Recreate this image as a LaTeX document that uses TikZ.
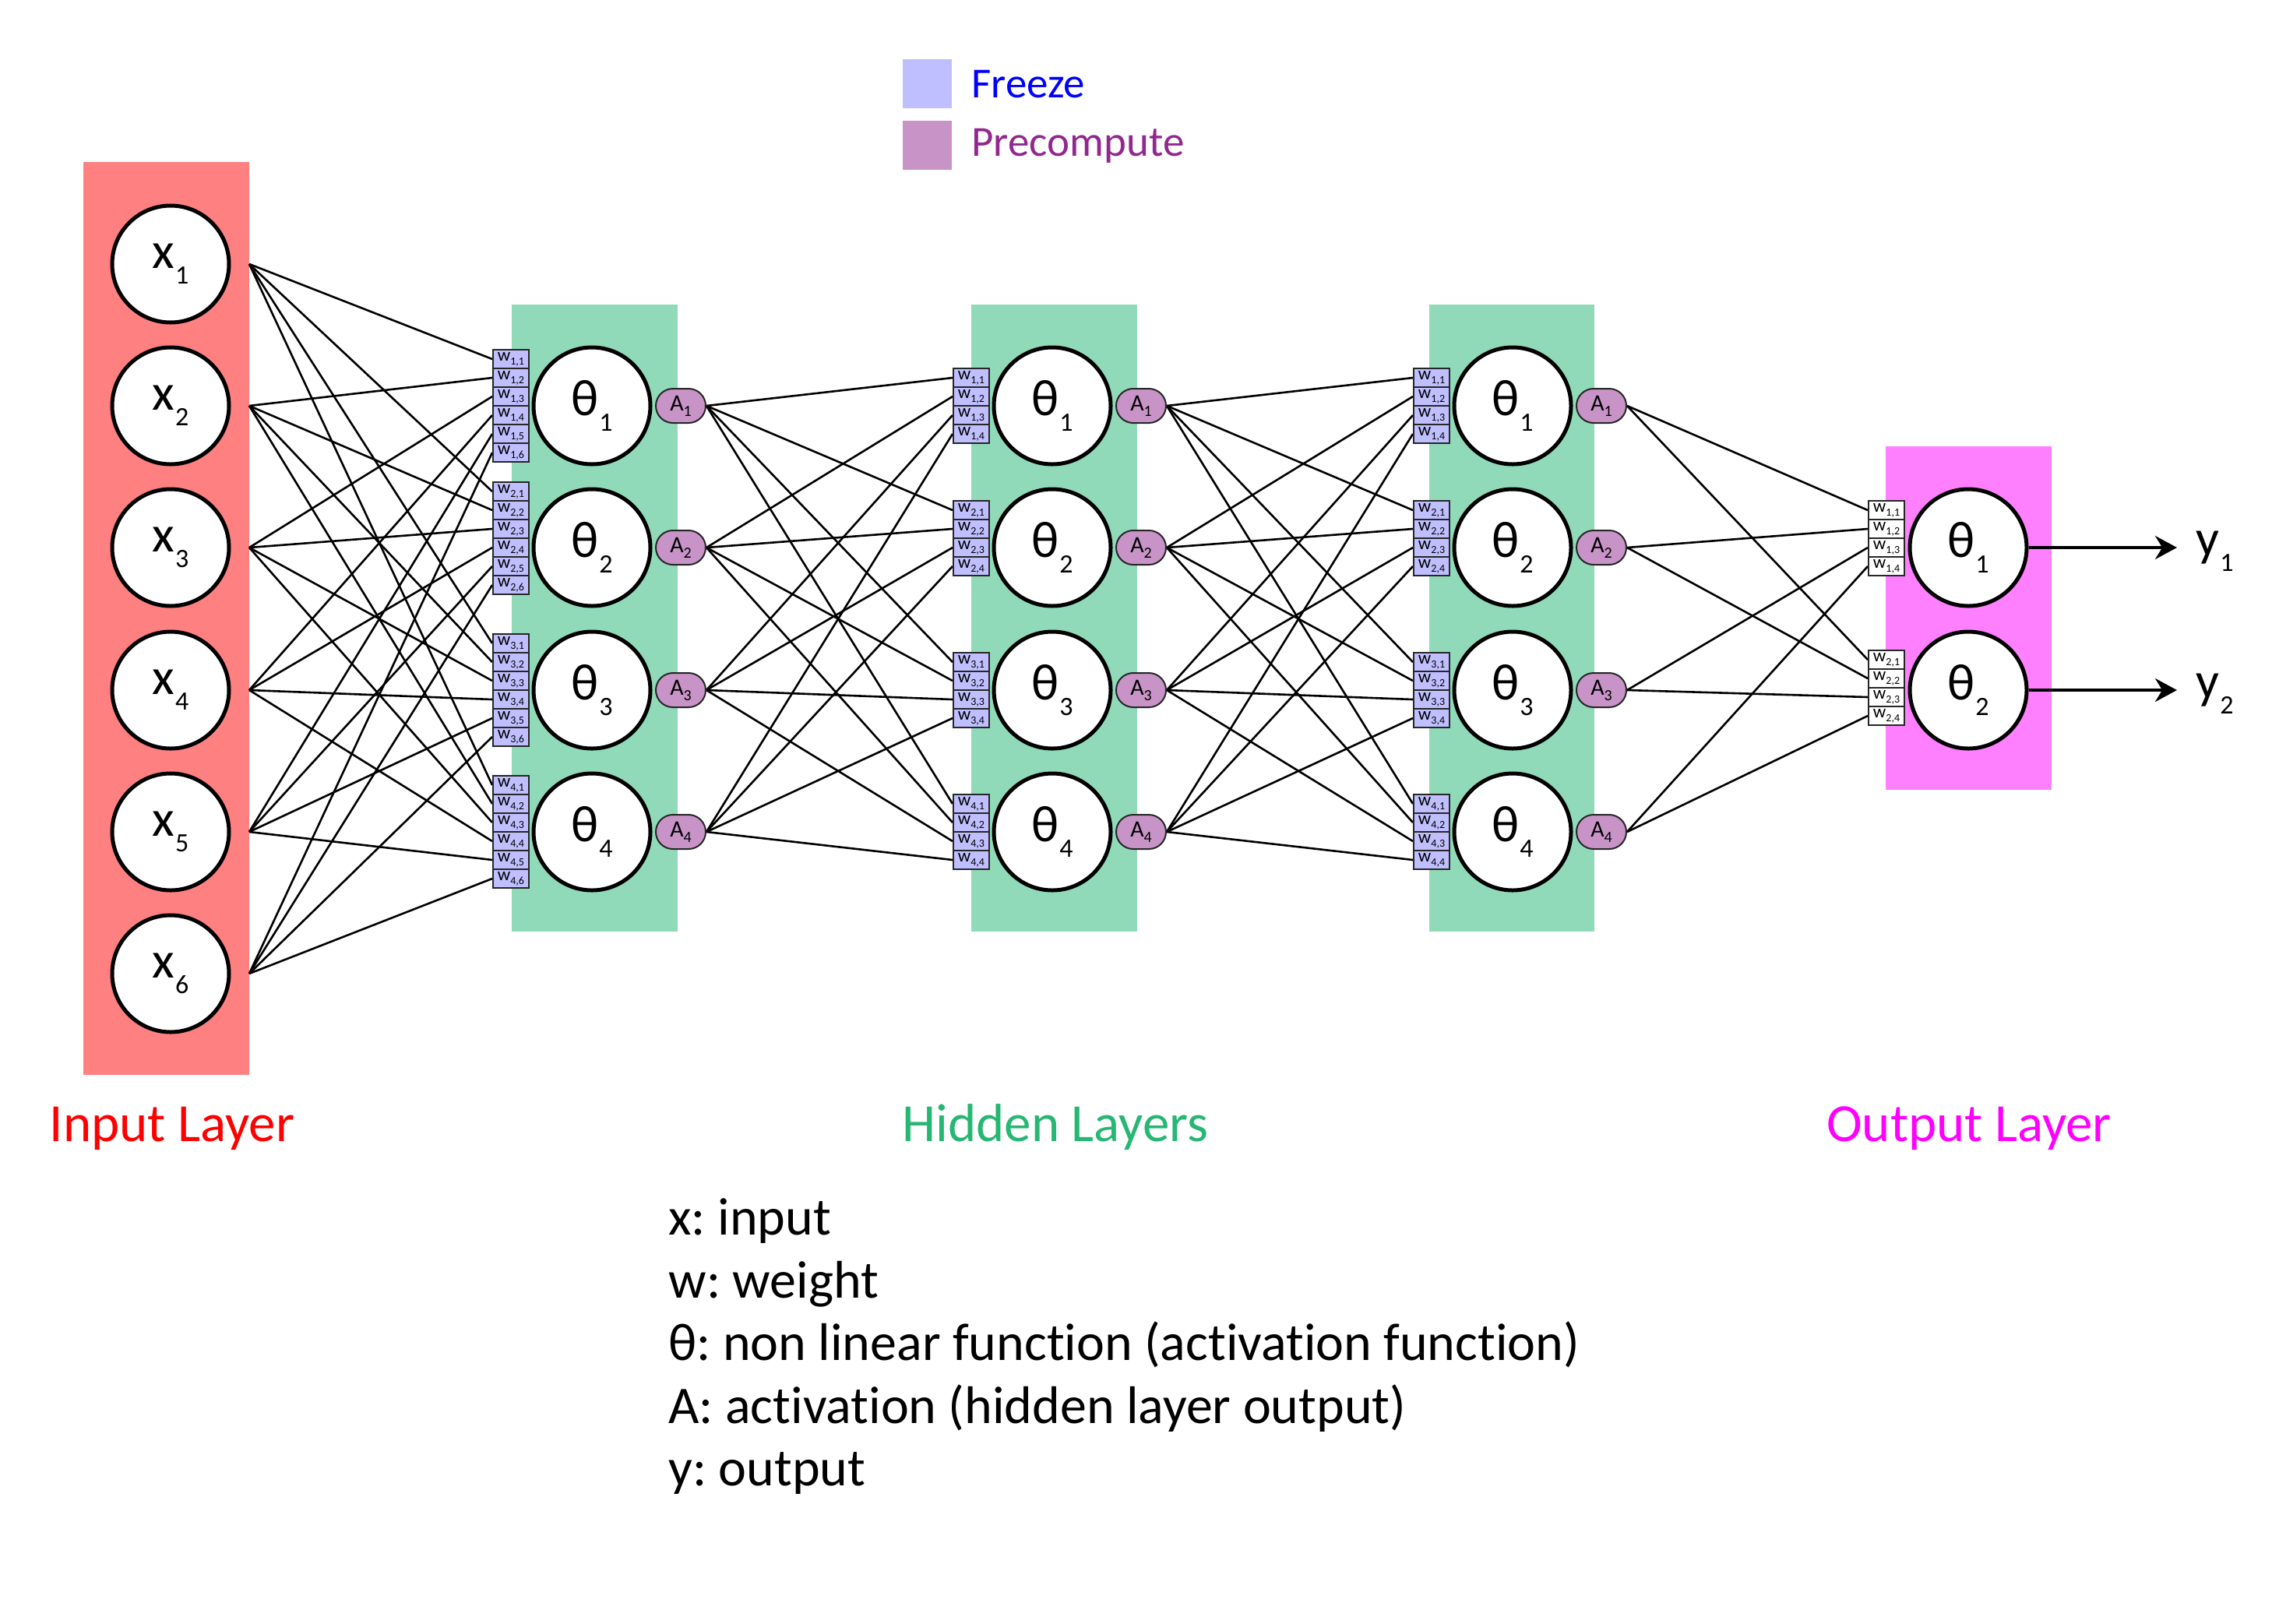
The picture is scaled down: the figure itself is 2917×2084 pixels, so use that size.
\documentclass[tikz,border=0pt]{standalone}
\usepackage{fontspec}
\setmainfont[Ligatures=NoCommon]{Carlito}
\usetikzlibrary{arrows.meta}
\definecolor{inred}{RGB}{255,128,128}
\definecolor{hidgreen}{RGB}{144,218,185}
\definecolor{outmag}{RGB}{255,128,255}
\definecolor{freezec}{RGB}{191,191,255}
\definecolor{precc}{RGB}{200,148,199}
\definecolor{labred}{RGB}{255,0,0}
\definecolor{labgreen}{RGB}{38,183,115}
\definecolor{labmag}{RGB}{255,0,255}
\definecolor{labblue}{RGB}{0,0,255}
\definecolor{labpurple}{RGB}{146,39,143}
\newcommand{\nlab}[2]{\fontsize{33pt}{36pt}\selectfont #1\kern0.5pt\raisebox{-10pt}{\fontsize{17pt}{18pt}\selectfont #2}}
\newcommand{\wlab}[2]{\fontsize{11.5pt}{12pt}\selectfont w\raisebox{-2.5pt}{\fontsize{7pt}{8pt}\selectfont #1,#2}}
\newcommand{\alab}[1]{\fontsize{15pt}{16pt}\selectfont A\raisebox{-3.5pt}{\fontsize{10pt}{11pt}\selectfont #1}}
\pgfdeclarelayer{bg}
\pgfdeclarelayer{mid}
\pgfsetlayers{bg,mid,main}
\frenchspacing
\begin{document}
\begin{tikzpicture}[x=0.5pt,y=-0.5pt,
  neuron/.style={circle,draw=black,line width=2.5pt,fill=white,minimum size=75pt,inner sep=0pt},
  wfreeze/.style={rectangle,draw=black!85,line width=1pt,fill=freezec,minimum width=23pt,minimum height=12pt,inner sep=0pt},
  wplain/.style={wfreeze,fill=white},
  actbox/.style={rectangle,rounded corners=11pt,draw=black!85,line width=1pt,fill=precc,minimum width=32pt,minimum height=22pt,inner sep=0pt},
  conn/.style={line width=1.3pt,black},
  outarrow/.style={line width=2pt,-{Stealth[length=14pt,width=15pt]}},
  layerlab/.style={font=\fontsize{34.5pt}{38pt}\selectfont,anchor=base,inner sep=0pt},
  legtext/.style={font=\fontsize{27.5pt}{30pt}\selectfont,anchor=base west,inner sep=0pt},
  notetext/.style={font=\fontsize{34pt}{38pt}\selectfont,anchor=base west,inner sep=0pt}
]
\useasboundingbox (0,0) rectangle (2917,2084);
\begin{pgfonlayer}{bg}
  \fill[inred] (107,208) rectangle (320,1380);
  \fill[hidgreen] (657,391) rectangle (870,1196);
  \fill[hidgreen] (1247,391) rectangle (1460,1196);
  \fill[hidgreen] (1835,391) rectangle (2047,1196);
  \fill[outmag] (2421,573) rectangle (2634,1014);
\end{pgfonlayer}
% legend
\node[rectangle,fill=freezec,minimum width=31.5pt,minimum height=31.5pt,inner sep=0pt] (legf) at (1190.5,107.5) {};
\node[rectangle,fill=precc,minimum width=31.5pt,minimum height=31.5pt,inner sep=0pt] (legp) at (1190.5,186.5) {};
\node[legtext,text=labblue] (legft) at (1247,125) {Freeze};
\node[legtext,text=labpurple] (legpt) at (1247,200) {Precompute};
% input layer
\foreach \i/\yy in {1/339,2/521,3/703,4/886,5/1068,6/1250}{
  \node[neuron] (x\i) at (219,\yy) {\nlab{x}{\i}};
  \coordinate (xo\i) at (320,\yy);
}
% hidden layers
\foreach \L/\cx/\wx/\ax in {1/760/656/874,2/1351/1247/1465,3/1942/1838/2056}{
  \foreach \i/\yy/\wy in {1/521/521,2/703/691,3/886/886,4/1068/1068}{
    \node[neuron] (h\L-\i) at (\cx,\yy) {\nlab{θ}{\i}};
    \node[actbox] (a\L-\i) at (\ax,\yy) {\alab{\i}};
  }
}
% weight boxes layer 1 (6 inputs)
\foreach \j/\wy in {1/521,2/691,3/886,4/1068}{
  \foreach \k in {1,...,6}{
    \node[wfreeze] (w1-\j-\k) at (656,{\wy+24*(\k-3.5)}) {\wlab{\j}{\k}};
  }
}
% weight boxes layers 2,3 (4 inputs)
\foreach \L/\wx in {2/1247,3/1838}{
  \foreach \j/\wy in {1/521,2/691,3/886,4/1068}{
    \foreach \k in {1,...,4}{
      \node[wfreeze] (w\L-\j-\k) at (\wx,{\wy+24*(\k-2.5)}) {\wlab{\j}{\k}};
    }
  }
}
% output layer
\foreach \j/\yy/\wy in {1/703/691,2/886/883}{
  \node[neuron] (o\j) at (2527,\yy) {\nlab{θ}{\j}};
  \foreach \k in {1,...,4}{
    \node[wplain] (ow\j-\k) at (2422,{\wy+24*(\k-2.5)}) {\wlab{\j}{\k}};
  }
  \coordinate (yt\j) at (2795,\yy);
}
\node[anchor=base west,inner sep=0pt] (y1) at (2819,713) {\nlab{y}{1}};
\node[anchor=base west,inner sep=0pt] (y2) at (2819,896) {\nlab{y}{2}};
% connectors
\begin{pgfonlayer}{mid}
  \foreach \j in {1,...,4}{
    \foreach \k in {1,...,6}{
      \draw[conn] (xo\k) -- (w1-\j-\k.west);
    }
  }
  \foreach \L/\P in {2/1,3/2}{
    \foreach \j in {1,...,4}{
      \foreach \k in {1,...,4}{
        \draw[conn] (a\P-\k.east) -- (w\L-\j-\k.west);
      }
    }
  }
  \foreach \j in {1,2}{
    \foreach \k in {1,...,4}{
      \draw[conn] (a3-\k.east) -- (ow\j-\k.west);
    }
  }
\end{pgfonlayer}
\draw[outarrow] (o1.east) -- (yt1);
\draw[outarrow] (o2.east) -- (yt2);
% layer labels
\node[layerlab,text=labred] (linput) at (221,1465) {Input Layer};
\node[layerlab,text=labgreen] (lhidden) at (1355,1465) {Hidden Layers};
\node[layerlab,text=labmag] (loutput) at (2528,1465) {Output Layer};
% notes
\node[notetext] (n1) at (858,1585) {x: input};
\node[notetext] (n2) at (858,1666) {w: weight};
\node[notetext] (n3) at (858,1746) {θ: non linear function (activation function)};
\node[notetext] (n4) at (858,1827) {A: activation (hidden layer output)};
\node[notetext] (n5) at (858,1907) {y: output};
\end{tikzpicture}
\end{document}
